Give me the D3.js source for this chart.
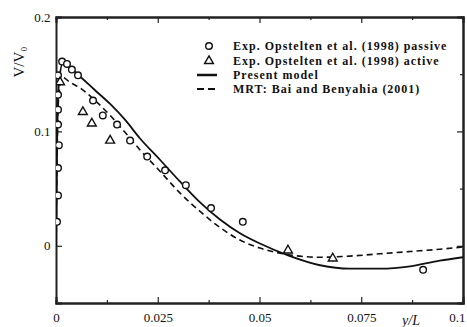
<!DOCTYPE html>
<html>
<head>
<meta charset="utf-8">
<script src="https://cdn.jsdelivr.net/npm/d3@7"></script>
<style>
  body { margin: 0; background: #fff; }
  svg { display: block; }
  text { font-family: "Liberation Serif", "DejaVu Serif", serif; fill: #111; }
</style>
</head>
<body>
<figure id="chart" style="margin:0"></figure>
<script>
// curve x positions (y/L) shared by both models
const curveX = [0, 0.00025, 0.0007, 0.0017, 0.0034, 0.0059, 0.0096, 0.0133, 0.017, 0.0206, 0.0256, 0.0305,
  0.0354, 0.0403, 0.0452, 0.0501, 0.0575, 0.0649, 0.0722, 0.0796, 0.087, 0.0943, 0.1];
const presentModel = [0, 0.084, 0.141, 0.160, 0.156, 0.148, 0.136, 0.124, 0.110, 0.094, 0.075, 0.056,
  0.038, 0.023, 0.011, 0.002, -0.009, -0.017, -0.020, -0.020, -0.018, -0.013, -0.010];
const mrtModel = [0, 0.075, 0.132, 0.147, 0.143, 0.138, 0.127, 0.114, 0.099, 0.084, 0.065, 0.046,
  0.030, 0.016, 0.005, -0.002, -0.008, -0.010, -0.009, -0.007, -0.005, -0.003, -0.001];

// experiments
const passiveX = [0.0005, 0.0005, 0.0005, 0.0005, 0.0007, 0.0005, 0.0005, 0.00025, 0.0015, 0.0027, 0.0039,
  0.0054, 0.0091, 0.0115, 0.015, 0.0182, 0.0224, 0.0268, 0.0319, 0.0381, 0.0459, 0.0902];
const passiveY = [0.149, 0.132, 0.119, 0.106, 0.088, 0.068, 0.044, 0.021, 0.161, 0.159, 0.154,
  0.149, 0.127, 0.114, 0.106, 0.092, 0.078, 0.066, 0.053, 0.033, 0.021, -0.021];
const activeX = [0.001, 0.0066, 0.0088, 0.0133, 0.057, 0.068];
const activeY = [0.143, 0.117, 0.107, 0.092, -0.004, -0.011];

const xTicks = [0, 0.025, 0.05, 0.075, 0.1];
const xTickLabels = ["0", "0.025", "0.05", "0.075", "0.1"];
const xMinor = [0.0125, 0.0375, 0.0625, 0.0875];
const yTicks = [0, 0.1, 0.2];
const yTickLabels = ["0", "0.1", "0.2"];
const legendLabels = [
  "Exp. Opstelten et al. (1998) passive",
  "Exp. Opstelten et al. (1998) active",
  "Present model",
  "MRT: Bai and Benyahia (2001)"
];

const W = 467, H = 327;
const margin = { left: 56, right: 4, top: 17, bottom: 24 };
const width = W - margin.left - margin.right;
const height = H - margin.top - margin.bottom;

const svg = d3.select("figure#chart").append("svg")
  .attr("width", W).attr("height", H);
const g = svg.append("g")
  .attr("transform", "translate(" + margin.left + "," + margin.top + ")");

const x = d3.scaleLinear().domain([0, 0.1]).range([0, width]);
const y = d3.scaleLinear().domain([-0.05, 0.2]).range([height, 0]);

g.append("clipPath").attr("id", "clip")
  .append("rect").attr("width", width).attr("height", height);

// axes, ticks inward on all four sides
const bottom = g.append("g").attr("transform", "translate(0," + height + ")")
  .call(d3.axisBottom(x).tickValues(xTicks).tickSize(-6)
    .tickFormat((d, i) => xTickLabels[i]));
bottom.selectAll("text").attr("dy", "1.25em");
bottom.selectAll(".tick").filter((d, i) => i === xTicks.length - 1)
  .select("text").attr("text-anchor", "end").attr("dx", "0.15em");
g.append("g").attr("transform", "translate(0," + height + ")")
  .call(d3.axisBottom(x).tickValues(xMinor).tickSize(-3).tickFormat(""));
g.append("g").call(d3.axisTop(x).tickValues(xTicks).tickSize(-6).tickFormat(""));
g.append("g").call(d3.axisTop(x).tickValues(xMinor).tickSize(-3).tickFormat(""));

const left = g.append("g")
  .call(d3.axisLeft(y).tickValues(yTicks).tickSize(-6)
    .tickFormat((d, i) => yTickLabels[i]));
left.selectAll("text").attr("dx", "-0.2em");
g.append("g").attr("transform", "translate(" + width + ",0)")
  .call(d3.axisRight(y).tickValues(yTicks).tickSize(-6).tickFormat(""));
g.append("g").attr("transform", "translate(" + width + ",0)")
  .call(d3.axisRight(y).tickValues([-0.05, 0.05, 0.15]).tickSize(-3).tickFormat(""));

g.selectAll(".domain").attr("stroke", "#222").attr("stroke-width", 2);
g.selectAll(".tick line").attr("stroke", "#222").attr("stroke-width", 1.2);
g.selectAll(".tick text").style("font-family", "Liberation Serif, serif")
  .style("font-size", "13px").attr("fill", "#111");

// axis titles
svg.append("text").attr("transform", "translate(24,62) rotate(-90)")
  .attr("text-anchor", "middle").style("font-size", "15px").text("V/V\u2080");
svg.append("text").attr("x", 411).attr("y", 325)
  .attr("text-anchor", "middle").style("font-size", "14px").style("font-style", "italic").text("y/L");

// model curves
const line = d3.line()
  .x(d => x(d[0])).y(d => y(d[1]))
  .curve(d3.curveMonotoneX);
const plot = g.append("g").attr("clip-path", "url(#clip)");

plot.append("path")
  .datum(curveX.map((v, i) => [v, presentModel[i]]))
  .attr("d", line).attr("fill", "none")
  .attr("stroke", "#111").attr("stroke-width", 1.8);
plot.append("path")
  .datum(curveX.map((v, i) => [v, mrtModel[i]]))
  .attr("d", line).attr("fill", "none")
  .attr("stroke", "#111").attr("stroke-width", 1.6)
  .attr("stroke-dasharray", "6,4");

// markers
const tri = d3.symbol().type(d3.symbolTriangle).size(34);
plot.selectAll(".passive")
  .data(passiveX.map((v, i) => [v, passiveY[i]]))
  .enter().append("circle")
  .attr("cx", d => x(d[0])).attr("cy", d => y(d[1])).attr("r", 3.3)
  .attr("fill", "#fff").attr("stroke", "#111").attr("stroke-width", 1.4);
plot.selectAll(".active")
  .data(activeX.map((v, i) => [v, activeY[i]]))
  .enter().append("path")
  .attr("transform", d => "translate(" + x(d[0]) + "," + y(d[1]) + ")")
  .attr("d", tri)
  .attr("fill", "#fff").attr("stroke", "#111").attr("stroke-width", 1.4);

// legend
const legend = svg.append("g").attr("transform", "translate(197,46)");
const rows = legend.selectAll("g").data(legendLabels).enter().append("g")
  .attr("transform", (d, i) => "translate(0," + [0, 15, 29, 43][i] + ")");
rows.append("text").attr("x", 36).attr("dy", "0.35em")
  .style("font-size", "12px").style("font-weight", "bold")
  .style("letter-spacing", "1px").text(d => d);
rows.filter((d, i) => i === 0).append("circle")
  .attr("cx", 12).attr("r", 3.3).attr("fill", "#fff").attr("stroke", "#111").attr("stroke-width", 1.4);
rows.filter((d, i) => i === 1).append("path")
  .attr("transform", "translate(12,0)").attr("d", tri)
  .attr("fill", "#fff").attr("stroke", "#111").attr("stroke-width", 1.4);
rows.filter((d, i) => i === 2).append("line")
  .attr("x1", 0).attr("x2", 20).attr("stroke", "#111").attr("stroke-width", 2.5);
rows.filter((d, i) => i === 3).append("line")
  .attr("x1", 0).attr("x2", 22).attr("stroke", "#111").attr("stroke-width", 2.2)
  .attr("stroke-dasharray", "7,4");
</script>
</body>
</html>
